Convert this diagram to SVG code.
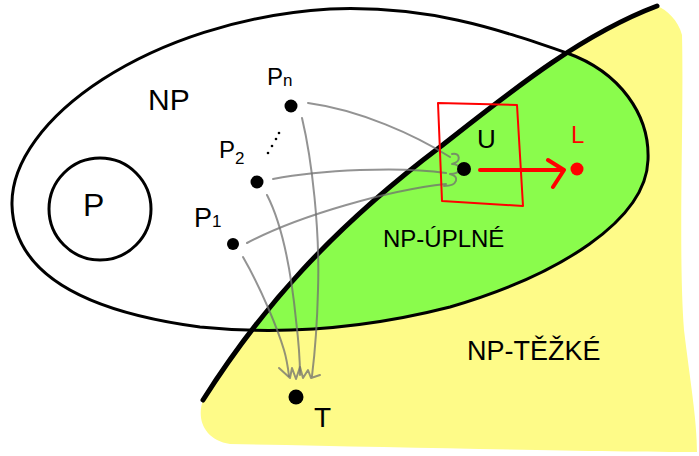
<svg xmlns="http://www.w3.org/2000/svg" width="699" height="456" viewBox="0 0 699 456">
<style>
  .lbl { font-family: "Liberation Sans", "DejaVu Sans", sans-serif; fill: #000; }
  .outline { fill: none; stroke: #000; stroke-width: 3; stroke-linecap: round; stroke-linejoin: round; }
  .dot { fill: #000; }
  .conn { fill: none; stroke: #6f6f6f; stroke-opacity: 0.75; stroke-width: 2; stroke-linecap: round; stroke-linejoin: round; }
  .red { fill: none; stroke: #f00; stroke-linecap: round; stroke-linejoin: round; }
</style>
<defs>
  <clipPath id="rightOfLine">
    <path d="M203,400 C260,310 330,230 440,147 C510,92 580,35 657,6 L699,0 L699,456 L150,456 Z"/>
  </clipPath>
  <path id="npShape" d="M12,205 C10,120 150,20 330,9 C430,5 500,30 567,53 C620,72 650,115 648,160 C646,220 560,275 450,307 C360,330 280,335 200,327 C110,315 14,285 12,205 Z"/>
</defs>

<g id="np-hard">
  <path d="M203,400 C260,310 330,230 440,147 C510,92 580,35 657,6 C667,10 678,20 682,35 C684,120 678,250 684,330 C690,380 697,420 697,452 C600,452 400,447 230,444 C205,440 196,420 203,400 Z" fill="#fefb88"/>
  <text class="lbl" x="467" y="360" font-size="27">NP-TĚŽKÉ</text>
</g>

<g id="np">
  <use href="#npShape" fill="#8afc4c" clip-path="url(#rightOfLine)"/>
  <use href="#npShape" class="outline"/>
  <text class="lbl" x="148" y="110" font-size="30">NP</text>
</g>

<g id="np-complete">
  <text class="lbl" x="383" y="247" font-size="24">NP-ÚPLNÉ</text>
</g>

<g id="boundary">
  <path d="M203,400 C260,310 330,230 440,147 C510,92 580,35 657,6" fill="none" stroke="#000" stroke-width="5" stroke-linecap="round"/>
</g>

<g id="p">
  <circle cx="100" cy="209" r="51" class="outline" stroke-width="2.5"/>
  <text class="lbl" x="83" y="216" font-size="32">P</text>
</g>

<g id="connectors">
  <path class="conn" d="M308,103 C360,110 415,135 450,157"/>
  <path class="conn" d="M273,179 C320,170 400,166 446,173"/>
  <path class="conn" d="M247,243 C300,215 390,190 446,184"/>
  <path class="conn" d="M452,154 c8,-2 10,8 0,10 c10,0 10,10 -2,10 c10,2 8,12 -6,12"/>
  <path class="conn" d="M302,118 C312,160 320,230 318,290 C317,330 314,360 312,376"/>
  <path class="conn" d="M267,195 C285,230 292,280 296,320 C299,345 300,365 300,375"/>
  <path class="conn" d="M243,257 C262,290 278,330 284,350 C287,360 288,368 289,376"/>
  <path class="conn" d="M279,368 L290,378 L292,368 L296,379 L300,367 L303,378 L308,370 L311,378 L320,375"/>
</g>

<g id="pn">
  <circle class="dot" cx="291" cy="106" r="6.5"/>
  <text class="lbl" x="267" y="85" font-size="24">P<tspan font-size="17" dy="1">n</tspan></text>
</g>
<g id="dots">
  <circle class="dot" cx="268" cy="153" r="1.3"/>
  <circle class="dot" cx="272" cy="146" r="1.3"/>
  <circle class="dot" cx="276" cy="139" r="1.3"/>
  <circle class="dot" cx="279" cy="133" r="1.3"/>
</g>
<g id="p2">
  <circle class="dot" cx="257" cy="182" r="6.5"/>
  <text class="lbl" x="219" y="158" font-size="24">P<tspan font-size="17" dy="6">2</tspan></text>
</g>
<g id="p1">
  <circle class="dot" cx="233" cy="244" r="6"/>
  <text class="lbl" x="194" y="227" font-size="27">P<tspan font-size="17">1</tspan></text>
</g>

<g id="u">
  <path class="red" stroke-width="2" d="M438,103 L517,105 L523,206 L442,201 Z"/>
  <circle class="dot" cx="464" cy="169" r="7"/>
  <text class="lbl" x="477" y="148" font-size="26">U</text>
</g>

<g id="reduction">
  <path class="red" stroke-width="4" d="M480,170 L563,170 M548,160 L564,170 L553,187"/>
</g>

<g id="l">
  <circle cx="577" cy="169" r="6.5" fill="#f00"/>
  <text class="lbl" x="571" y="143" font-size="24" fill="#f00" style="fill:#f00">L</text>
</g>

<g id="t">
  <circle class="dot" cx="296" cy="397" r="7.5"/>
  <text class="lbl" x="314" y="427" font-size="28">T</text>
</g>
</svg>
